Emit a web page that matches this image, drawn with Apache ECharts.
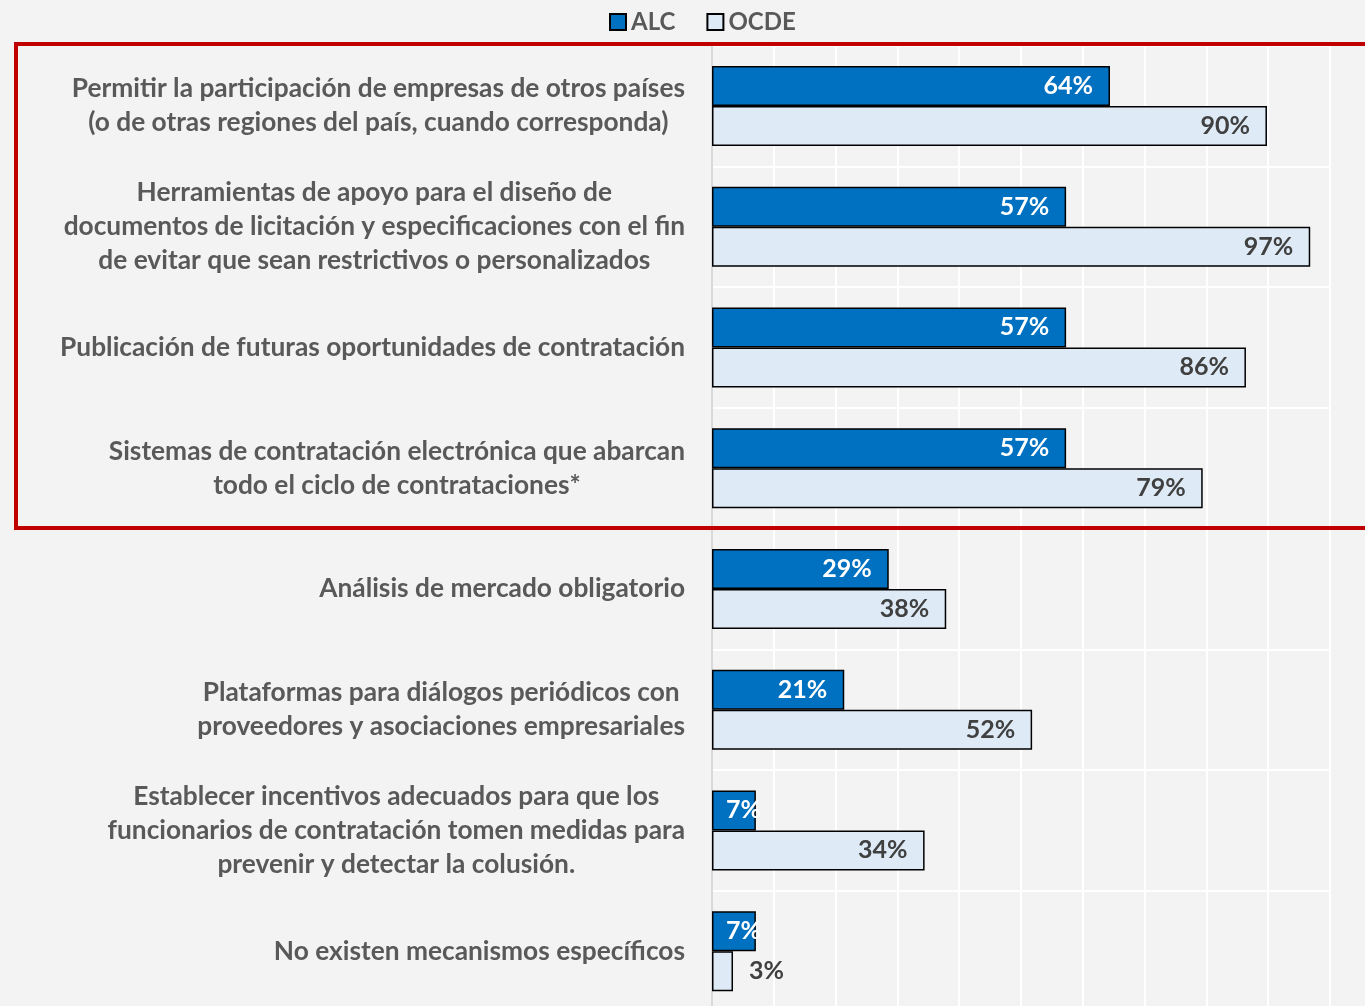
<!DOCTYPE html>
<html>
<head>
<meta charset="utf-8">
<script src="https://cdn.jsdelivr.net/npm/echarts@6/dist/echarts.min.js"></script>
<style>
  html, body { margin: 0; padding: 0; background: #f3f3f3; }
  #chart { width: 1365px; height: 1006px; }
</style>
</head>
<body>
<div id="chart"></div>
<script>
const categories = [
  'Permitir la participación de empresas de otros países\n(o de otras regiones del país, cuando corresponda)',
  'Herramientas de apoyo para el diseño de\ndocumentos de licitación y especificaciones con el fin\nde evitar que sean restrictivos o personalizados',
  'Publicación de futuras oportunidades de contratación',
  'Sistemas de contratación electrónica que abarcan\ntodo el ciclo de contrataciones*',
  'Análisis de mercado obligatorio',
  'Plataformas para diálogos periódicos con\nproveedores y asociaciones empresariales',
  'Establecer incentivos adecuados para que los\nfuncionarios de contratación tomen medidas para\nprevenir y detectar la colusión.',
  'No existen mecanismos específicos'
]
// values; labels show them rounded
const alc = [64.4, 57.3, 57.3, 57.3, 28.6, 21.4, 7.1, 7.1]
const ocde = [89.8, 96.8, 86.4, 79.4, 37.9, 51.8, 34.4, 3.4]

const font = 'Lato'
const chart = echarts.init(document.getElementById('chart'))

const pct = p => Math.round(p.value) + '%'

const option = {
  backgroundColor: '#f3f3f3',
  textStyle: { fontFamily: font },
  legend: {
    left: 604,
    top: 5,
    itemWidth: 16,
    itemHeight: 16,
    itemGap: 31,
    icon: 'rect',
    textStyle: { fontSize: 24, fontWeight: 'bold', color: '#595959', fontFamily: font },
    data: ['ALC', 'OCDE']
  },
  grid: {
    left: 712,
    right: 35,
    top: 45.5,
    height: 966,
    outerBoundsMode: 'none'
  },
  xAxis: {
    type: 'value',
    min: 0,
    max: 100,
    interval: 10,
    axisLabel: { show: false },
    axisLine: { show: false },
    axisTick: { show: false },
    splitLine: { lineStyle: { color: '#ffffff', width: 2 } }
  },
  yAxis: {
    type: 'category',
    inverse: true,
    data: categories,
    axisLine: { lineStyle: { color: '#d9d9d9', width: 2 } },
    axisTick: { length: 9, lineStyle: { color: '#d9d9d9', width: 2 } },
    splitLine: { show: true, lineStyle: { color: '#ffffff', width: 2 } },
    axisLabel: {
      margin: 27,
      formatter: v => v.split('\n').map(l => '{c|' + l + '}').join('\n'),
      rich: {
        c: {
          align: 'center',
          fontSize: 26.3,
          fontWeight: 'bold',
          color: '#595959',
          lineHeight: 34,
          fontFamily: font
        }
      }
    }
  },
  series: [
    {
      name: 'ALC',
      type: 'bar',
      barWidth: 40,
      barGap: '0%',
      data: alc.map(v => v < 10 ? { value: v, label: { position: 'insideLeft', distance: 14 } } : v),
      itemStyle: { color: '#0070c0', borderColor: '#000', borderWidth: 1.5 },
      label: {
        show: true,
        position: 'insideRight',
        distance: 17,
        formatter: pct,
        color: '#ffffff',
        fontSize: 25,
        fontWeight: 'bold',
        fontFamily: font
      }
    },
    {
      name: 'OCDE',
      type: 'bar',
      barWidth: 40,
      data: ocde.map(v => v < 5 ? { value: v, label: { position: 'right', distance: 16 } } : v),
      itemStyle: { color: '#deebf7', borderColor: '#000', borderWidth: 1.5 },
      label: {
        show: true,
        position: 'insideRight',
        distance: 17,
        formatter: pct,
        color: '#404040',
        fontSize: 25,
        fontWeight: 'bold',
        fontFamily: font
      }
    }
  ],
  graphic: [
    {
      type: 'rect',
      silent: true,
      z: 100,
      shape: { x: 16, y: 44, width: 1400, height: 484 },
      style: { fill: 'none', stroke: '#c00000', lineWidth: 4 }
    }
  ]
}

chart.setOption(option)
window.addEventListener('resize', () => chart.resize())
</script>
</body>
</html>
